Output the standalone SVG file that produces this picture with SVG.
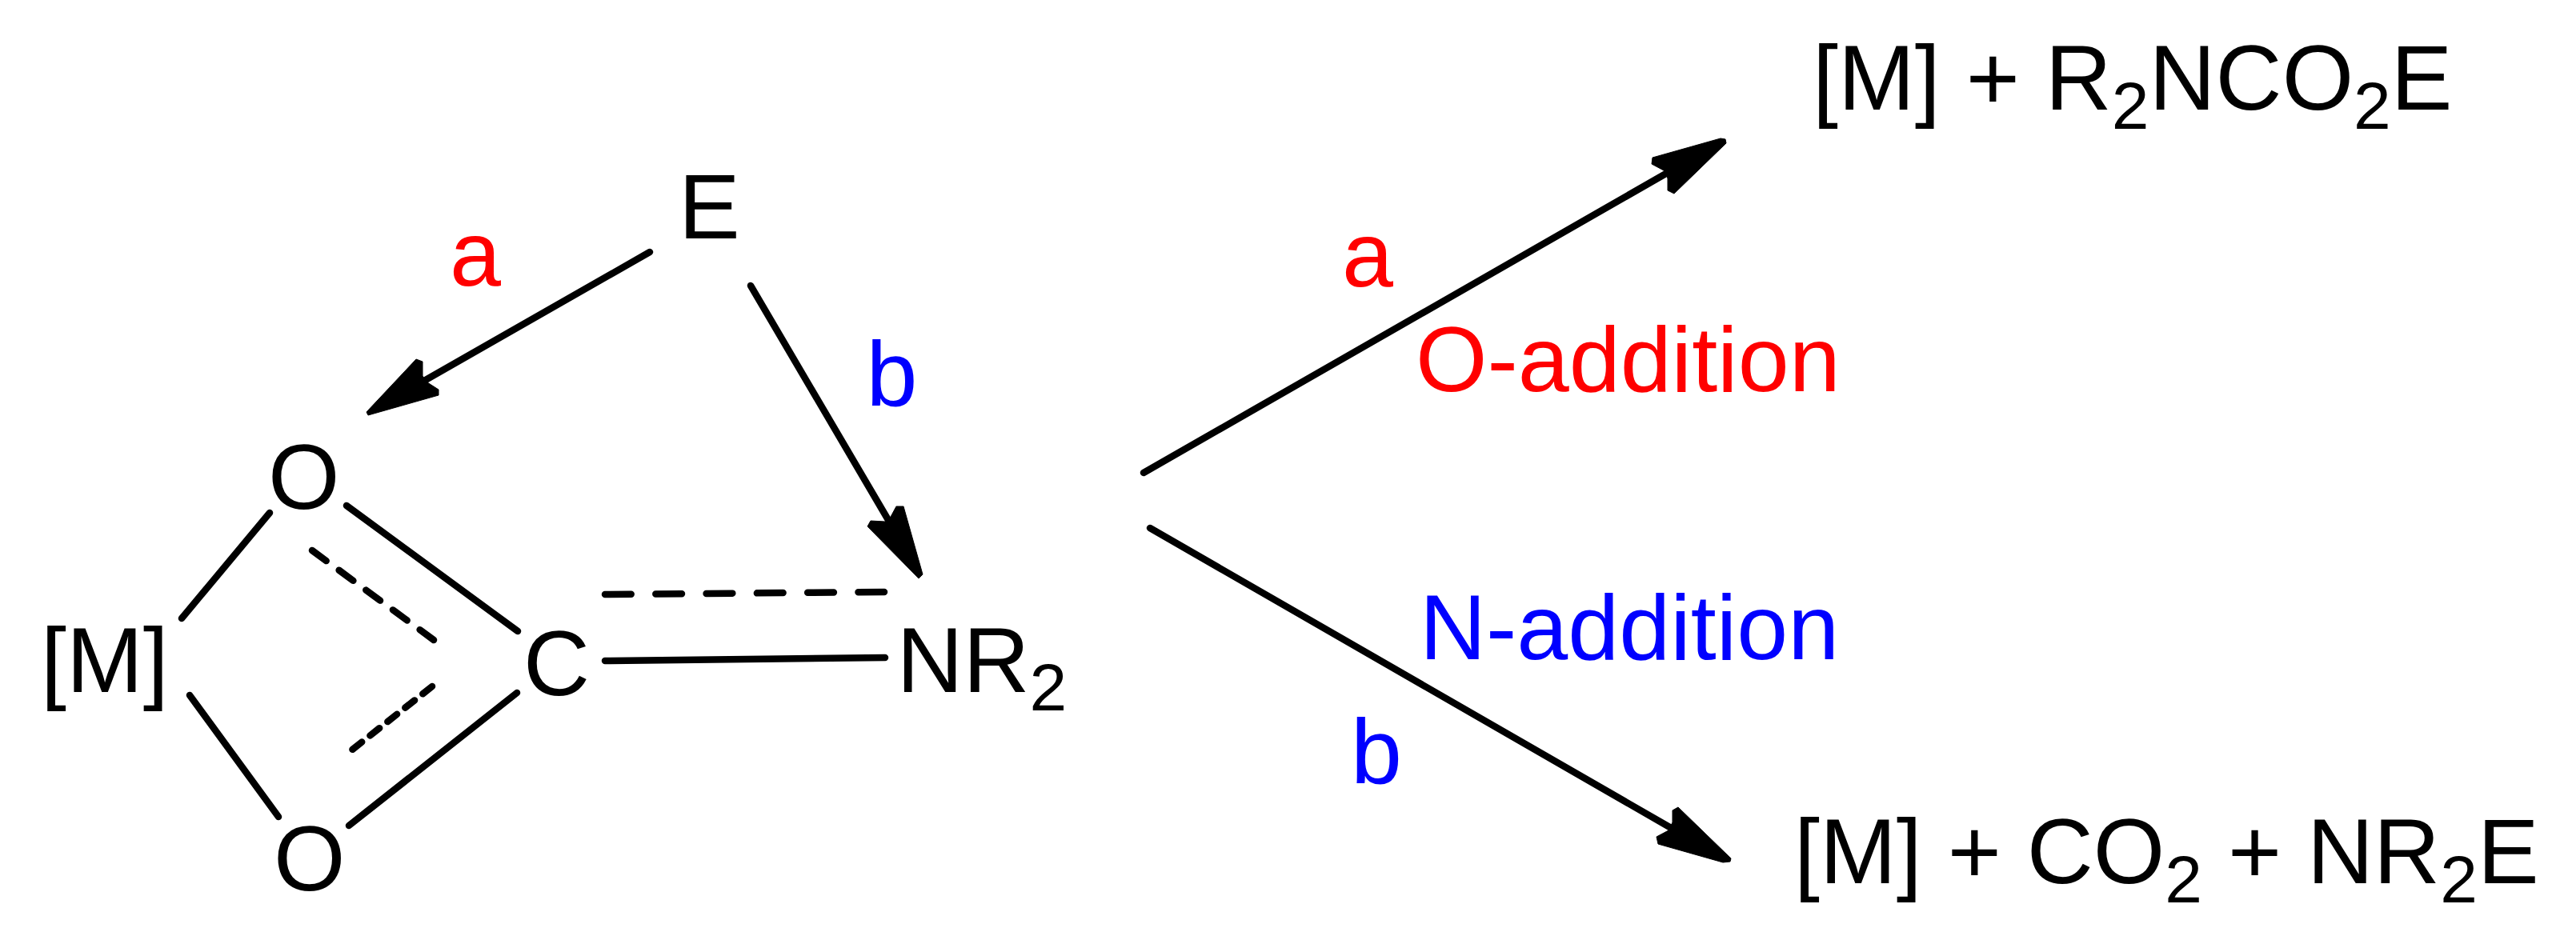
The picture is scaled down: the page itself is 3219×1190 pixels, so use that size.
<svg xmlns="http://www.w3.org/2000/svg" width="3219" height="1190" viewBox="0 0 3219 1190">
<style>
text{font-family:"Liberation Sans",Arial,sans-serif;font-size:115px;fill:#000}
.r{fill:#f00}.bl{fill:#00f}
.s{font-size:84px}
.l{stroke:#000;stroke-width:8.5;fill:none;stroke-linecap:round}
.h{fill:#000;stroke:#000;stroke-width:1;stroke-linejoin:round}
</style>
<rect width="3219" height="1190" fill="#fff"/>
<g id="connectors">
<path class="l" d="M812 315L530 476"/><path class="h" d="M458 515L520 449L528 452L528 470L534 478L548 487L548 494L460 519Z"/>
<path class="l" d="M938 357L1110 650"/><path class="h" d="M1153 718L1148 723L1084 658L1088 651L1106 652L1113 646L1120 633L1129 633Z"/>
<path class="l" d="M337 641L227 773"/>
<path class="l" d="M433 632L647 789"/>
<path class="l" stroke-dasharray="22 19.8" d="M390 688L542 800"/>
<path class="l" d="M237 869L348 1021"/>
<path class="l" d="M436 1032L646 866"/>
<path class="l" stroke-dasharray="15 13" d="M540 858L439 938"/>
<path class="l" d="M756 826L1106 822"/>
<path class="l" stroke-dasharray="32.7 30.6" d="M756 743L1105 740"/>
<path class="l" d="M1429 591L2080 218"/><path class="h" d="M2150 173L2156 174L2157 179L2092 242L2084 238L2084 223L2079 213L2064 205L2065 197Z"/>
<path class="l" d="M1437 660L2090 1036"/><path class="h" d="M2163 1073L2162 1077L2153 1078L2072 1055L2070 1046L2085 1038L2090 1028L2090 1013L2097 1009Z"/>
</g>
<g id="E"><text x="848" y="298">E</text></g>
<g id="label-a1"><text class="r" x="562" y="357">a</text></g>
<g id="label-b1"><text class="bl" x="1082.5" y="507">b</text></g>
<g id="O1"><text x="335" y="636">O</text></g>
<g id="O2"><text x="342" y="1113">O</text></g>
<g id="C"><text x="654" y="869">C</text></g>
<g id="M"><text x="51" y="865">[M]</text></g>
<g id="NR2"><text x="1120.5" y="865">NR<tspan class="s" dy="23">2</tspan></text></g>
<g id="product-a"><text x="2265" y="137">[M] + R<tspan class="s" dy="24">2</tspan><tspan dy="-24">NCO</tspan><tspan class="s" dy="24">2</tspan><tspan dy="-24">E</tspan></text></g>
<g id="product-b"><text x="2242" y="1104">[M] + CO<tspan class="s" dy="24">2</tspan><tspan dy="-24"> + NR</tspan><tspan class="s" dy="24">2</tspan><tspan dy="-24">E</tspan></text></g>
<g id="label-a2"><text class="r" x="1677" y="358">a</text></g>
<g id="label-b2"><text class="bl" x="1688" y="979">b</text></g>
<g id="O-addition"><text class="r" x="1769" y="489">O-addition</text></g>
<g id="N-addition"><text class="bl" x="1774" y="824">N-addition</text></g>
</svg>
